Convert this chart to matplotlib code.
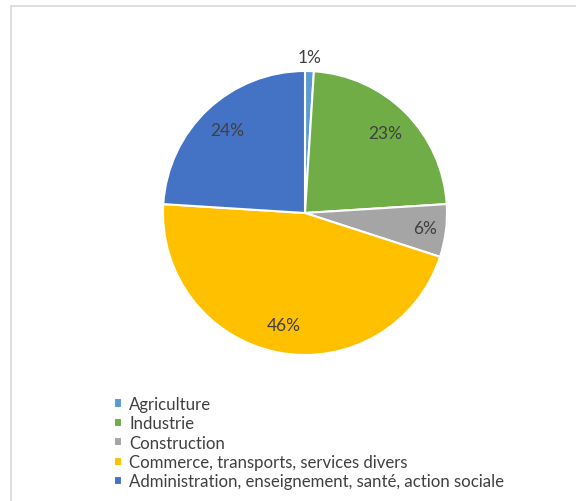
import matplotlib.pyplot as plt
import matplotlib.patches as mpatches
import numpy as np

# secteurs d'activite
secteurs = ["Agriculture", "Industrie", "Construction",
            "Commerce, transports, services divers",
            "Administration, enseignement, santé, action sociale"]
parts = [1, 23, 6, 46, 24]
couleurs = ["#5B9BD5", "#70AD47", "#A5A5A5", "#FFC000", "#4472C4"]

W, H = 576, 502
fig = plt.figure(figsize=(W / 100, H / 100), dpi=100)

# cadre du graphique (coupe a droite et en bas)
fig.patches.append(mpatches.Rectangle((10.5 / W, -0.1), 1.2, (H - 6.5) / H + 0.1,
                                      transform=fig.transFigure, fill=False,
                                      edgecolor="#D9D9D9", linewidth=1.2))

cx, cy, r = 305, 214, 142
ax = fig.add_axes([(cx - r) / W, (H - cy - r) / H, 2 * r / W, 2 * r / H])

wedges, texts, autotexts = ax.pie(parts, colors=couleurs, startangle=90, counterclock=False,
                                  autopct="%1.0f%%", pctdistance=0.8,
                                  wedgeprops=dict(edgecolor="white", linewidth=1.5),
                                  textprops=dict(color="#404040", fontsize=12.5, family="Lato"))
ax.set_xlim(-1, 1)
ax.set_ylim(-1, 1)

# petites parts : etiquette a l'exterieur
for w, t, p in zip(wedges, autotexts, parts):
    ang = np.deg2rad((w.theta1 + w.theta2) / 2)
    if p < 3:
        t.set_position((1.1 * np.cos(ang), 1.1 * np.sin(ang)))
    elif p == 6:
        t.set_position((0.85 * np.cos(ang), 0.85 * np.sin(ang)))

leg = fig.legend(wedges, secteurs, loc="upper left", bbox_to_anchor=(114 / W, 1 - 397 / H),
                 frameon=False, prop=dict(family="Lato", size=12.1), labelcolor="#404040",
                 handlelength=0.45, handleheight=0.45, handletextpad=0.45,
                 labelspacing=0.2, borderaxespad=0, borderpad=0)

fig.savefig("out.png", dpi=100)
